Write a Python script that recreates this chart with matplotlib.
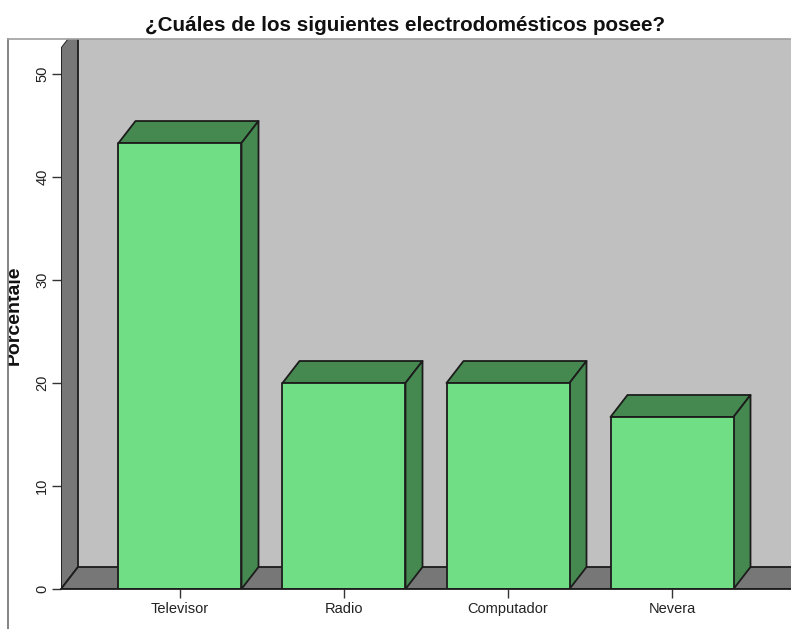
import matplotlib
matplotlib.use('Agg')
import matplotlib.pyplot as plt
from matplotlib.lines import Line2D
from matplotlib.patches import Polygon, Rectangle
from matplotlib.transforms import Bbox

categorias = ['Televisor', 'Radio', 'Computador', 'Nevera']
porcentajes = [43.3, 20.0, 20.0, 16.7]
ticks_y = [0, 10, 20, 30, 40, 50]

plt.rcParams['font.family'] = ['Liberation Sans', 'DejaVu Sans']

W, H = 791, 629
fig = plt.figure(figsize=(W / 100, H / 100), dpi=100)
ax = fig.add_axes([61 / W, (H - 589) / H, (791 - 61) / W, (589 - 39) / H])
ax.set_xlim(-0.7256, 3.7256)
ax.set_ylim(0, 53.4)

# profundidad del efecto 3D en unidades de datos
dx = 17 / 164
dy = 22 / 10.3
ancho = 0.75
borde = '#1c1c1c'
x0, x1 = ax.get_xlim()
techo = 52.6

def cara(puntos, color, z):
    ax.add_patch(Polygon(puntos, closed=True, facecolor=color, edgecolor=borde,
                         linewidth=1.3, joinstyle='round', zorder=z))

# paredes y piso
ax.add_patch(Polygon([(x0, 0), (x1 + 1, 0), (x1 + 1, 60), (x0, 60)], facecolor='#c0c0c0', edgecolor='none', zorder=1))
cara([(x0, 0), (x0 + dx, dy), (x0 + dx, techo + dy), (x0, techo)], '#777777', 2)
cara([(x0, 0), (x0 + dx, dy), (x1 + 1, dy), (x1 + 1, 0)], '#777777', 2)
# tapa la esquina blanca sobre la pared lateral
ax.add_patch(Polygon([(x0, techo), (x0 + dx, techo + dy), (x0, techo + dy)], facecolor='white', edgecolor='none', zorder=3))

# barras
for i, v in enumerate(porcentajes):
    a = i - ancho / 2
    b = i + ancho / 2
    cara([(a, v), (a + dx, v + dy), (b + dx, v + dy), (b, v)], '#458950', 4)
    cara([(b, 0), (b + dx, dy), (b + dx, v + dy), (b, v)], '#458950', 4)
    cara([(a, 0), (b, 0), (b, v), (a, v)], '#70de84', 5)

ax.set_xticks(range(len(categorias)))
ax.set_xticklabels(categorias, fontsize=10.5, color='#222222')
ax.set_yticks(ticks_y)
ax.set_yticklabels(ticks_y, fontsize=10.5, rotation=90, va='center', color='#222222')
ax.tick_params(axis='both', length=6.5, width=1, color='#333333', pad=2)
ax.tick_params(axis='x', length=6.5, pad=3)
for lado in ['top', 'right', 'left']:
    ax.spines[lado].set_visible(False)
ax.spines['bottom'].set_linewidth(1.3)
ax.spines['bottom'].set_color(borde)
ax.spines['bottom'].set_zorder(6)

fig.text(405.5 / W, (H - 25.5) / H, '¿Cuáles de los siguientes electrodomésticos posee?',
         ha='center', va='center', fontsize=14.9, fontweight='bold', color='#111111')
# la etiqueta del eje queda recortada en el original
t = fig.text(18.5 / W, (H - 315) / H, 'Porcentaje', rotation=90, ha='center', va='baseline',
             rotation_mode='anchor', fontsize=14, fontweight='bold', color='#111111', zorder=3)
t.set_clip_box(Bbox([[0, 0], [20, H]]))
t.set_clip_on(True)
fig.add_artist(Rectangle((0, 0), 8 / W, 1, transform=fig.transFigure, facecolor='white',
                         edgecolor='none', zorder=4))

# marco exterior
fig.add_artist(Line2D([8 / W, 8 / W], [0, (H - 39) / H], color='#707070', lw=1.2, zorder=5))
fig.add_artist(Line2D([8 / W, 1], [(H - 39) / H, (H - 39) / H], color='#a0a0a0', lw=1.2, zorder=5))

fig.savefig('out.png', dpi=100)
